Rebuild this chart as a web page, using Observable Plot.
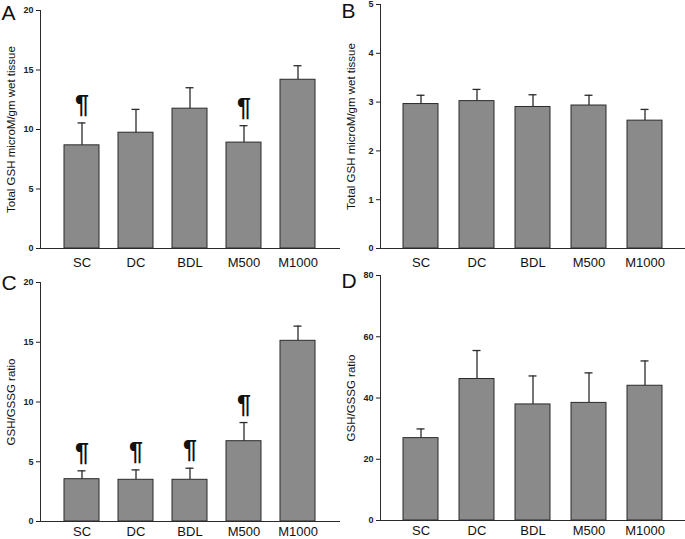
<!DOCTYPE html>
<html><head><meta charset="utf-8">
<script src="https://cdn.jsdelivr.net/npm/d3@7"></script>
<script src="https://cdn.jsdelivr.net/npm/@observablehq/plot@0.6"></script>
<style>
body{margin:0;background:#fff;font-family:Arial,"Liberation Sans",sans-serif}
#grid{display:grid;grid-template-columns:340px 345px;grid-template-rows:270px 269px;width:685px;height:539px}
#grid svg{display:block}
</style>
</head><body><div id="grid"></div>
<script>
const groups = ["SC", "DC", "BDL", "M500", "M1000"];

// Panel A: Total GSH (microM/gm wet tissue)
const aMeans = [8.67, 9.73, 11.75, 8.9, 14.18];
const aErrs  = [1.88, 1.96, 1.76, 1.42, 1.18];
const aMarks = ["¶", "", "", "¶", ""];
const aTicks = [0, 5, 10, 15, 20];

// Panel B: Total GSH (microM/gm wet tissue)
const bMeans = [2.96, 3.02, 2.90, 2.93, 2.62];
const bErrs  = [0.18, 0.24, 0.25, 0.21, 0.23];
const bMarks = ["", "", "", "", ""];
const bTicks = [0, 1, 2, 3, 4, 5];

// Panel C: GSH/GSSG ratio
const cMeans = [3.54, 3.49, 3.49, 6.72, 15.12];
const cErrs  = [0.70, 0.83, 0.97, 1.56, 1.23];
const cMarks = ["¶", "¶", "¶", "¶", ""];
const cTicks = [0, 5, 10, 15, 20];

// Panel D: GSH/GSSG ratio
const dMeans = [26.9, 46.2, 37.9, 38.4, 44.0];
const dErrs  = [3.0, 9.3, 9.3, 9.8, 8.1];
const dMarks = ["", "", "", "", ""];
const dTicks = [0, 20, 40, 60, 80];

const labelGSH = "Total GSH microM/gm wet tissue";
const labelRatio = "GSH/GSSG ratio";

function panel({letter, means, errs, marks, ticks, yLabel, width, height, marginTop, marginBottom, padIn, padOut, letterDy, xPad}) {
  const data = groups.map((g, i) => ({g, v: means[i], e: means[i] + errs[i], m: marks[i]}));
  const yMax = ticks[ticks.length - 1];
  return Plot.plot({
    width, height,
    marginLeft: 40, marginRight: 0, marginTop, marginBottom,
    style: {fontFamily: "Arial, 'Liberation Sans', sans-serif", background: "transparent", overflow: "visible", color: "#222"},
    x: {domain: groups, paddingInner: padIn, paddingOuter: padOut, axis: null},
    y: {domain: [0, yMax], axis: null},
    marks: [
      Plot.ruleX(data, {x: "g", y1: "v", y2: "e", stroke: "#2b2b2b", strokeWidth: 1.3}),
      Plot.tickY(data, {x: "g", y: "e", stroke: "#2b2b2b", strokeWidth: 1.3, insetLeft: 13.5, insetRight: 13.5}),
      Plot.barY(data, {x: "g", y: "v", fill: "#8a8a8a", stroke: "#2b2b2b", strokeWidth: 1}),
      Plot.text(data.filter(d => d.m), {x: "g", y: "e", text: "m", dy: -10, lineAnchor: "bottom", fontSize: 25, fontWeight: "bold", fill: "#111"}),
      Plot.axisY({ticks, tickFormat: d => String(d), tickSize: 4, tickPadding: 3, fontSize: 9, fontWeight: "bold", label: null, fill: "#222"}),
      Plot.axisX({tickSize: 0, tickPadding: xPad, fontSize: 13, label: null, fill: "#111"}),
      Plot.frame({anchor: "left", stroke: "#2b2b2b"}),
      Plot.ruleY([0], {stroke: "#2b2b2b"}),
      Plot.text([yLabel], {frameAnchor: "left", textAnchor: "middle", rotate: -90, dx: -29, fontSize: 11.5, fill: "#111"}),
      Plot.text([letter], {frameAnchor: "top-left", dx: -39, dy: letterDy, textAnchor: "start", lineAnchor: "top", fontSize: 21, fill: "#111"})
    ]
  });
}

const grid = document.getElementById("grid");
grid.append(
  panel({letter: "A", means: aMeans, errs: aErrs, marks: aMarks, ticks: aTicks, yLabel: labelGSH, width: 340, height: 270, marginTop: 10, marginBottom: 22, padIn: 0.35, padOut: 0.45, letterDy: -5, xPad: 9}),
  panel({letter: "B", means: bMeans, errs: bErrs, marks: bMarks, ticks: bTicks, yLabel: labelGSH, width: 345, height: 270, marginTop: 4, marginBottom: 22, padIn: 0.38, padOut: 0.39, letterDy: -1, xPad: 9}),
  panel({letter: "C", means: cMeans, errs: cErrs, marks: cMarks, ticks: cTicks, yLabel: labelRatio, width: 340, height: 269, marginTop: 12, marginBottom: 18, padIn: 0.35, padOut: 0.45, letterDy: -7, xPad: 5}),
  panel({letter: "D", means: dMeans, errs: dErrs, marks: dMarks, ticks: dTicks, yLabel: labelRatio, width: 345, height: 269, marginTop: 5, marginBottom: 19, padIn: 0.38, padOut: 0.39, letterDy: -2, xPad: 5})
);
</script>
</body></html>
